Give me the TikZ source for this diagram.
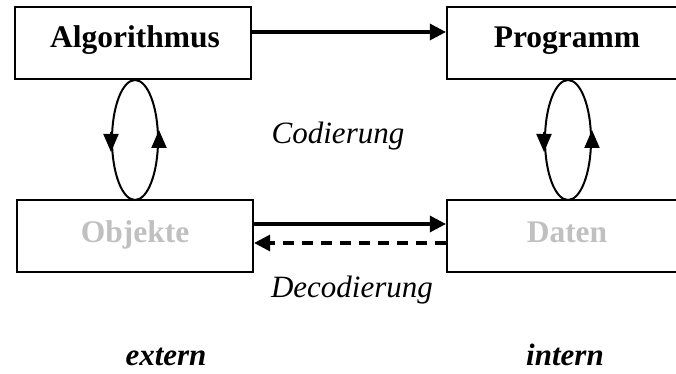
\documentclass[tikz,border=0pt]{standalone}
\usepackage{fontspec}
\setmainfont{Liberation Serif}
\usetikzlibrary{arrows.meta,shapes.geometric}
\definecolor{lightgray}{RGB}{192,192,192}
\tikzset{
  box/.style={draw=black, line width=2.2pt, minimum width=236pt, minimum height=72pt, inner sep=0pt},
  boxtext/.style={font=\fontsize{31.5}{36}\selectfont\bfseries, anchor=base},
  lbl/.style={font=\fontsize{31}{36}\selectfont\itshape, anchor=base},
  side/.style={font=\fontsize{31}{36}\selectfont\bfseries\itshape, anchor=base},
  conn/.style={line width=3.2pt, -{Triangle[length=16pt,width=16pt]}},
  loopring/.style={draw=black, ellipse, line width=2pt, minimum width=46pt, minimum height=120pt, inner sep=0pt},
  looptip/.style={line width=2pt, -{Triangle[length=18pt,width=15pt]}}
}
\begin{document}
\begin{tikzpicture}[x=1pt,y=-1pt]
\useasboundingbox (0,0) rectangle (676,374);
\begin{scope}
\clip (0,0) rectangle (676,374);
% boxes
\node[box] (alg) at (133,43) {};
\node[box] (prog) at (565,43) {};
\node[box] (obj) at (135,236) {};
\node[box] (dat) at (565,236) {};
\end{scope}
% box labels
\node[boxtext] (algT) at (135,48) {Algorithmus};
\node[boxtext] (progT) at (567,48) {Programm};
\node[boxtext, text=lightgray] (objT) at (135,242) {Objekte};
\node[boxtext, text=lightgray] (datT) at (567,242) {Daten};
% loops between upper and lower boxes: down on the left side, up on the right
\node[loopring] (loopA) at (135,140) {};
\node[loopring] (loopP) at (568,140) {};
\draw[looptip] ([yshift=8pt]loopA.west) -- ([yshift=-12pt]loopA.west);
\draw[looptip] ([yshift=-8pt]loopA.east) -- ([yshift=10pt]loopA.east);
\draw[looptip] ([yshift=8pt]loopP.west) -- ([yshift=-12pt]loopP.west);
\draw[looptip] ([yshift=-8pt]loopP.east) -- ([yshift=10pt]loopP.east);
% connectors
\draw[conn] (alg.east |- 0,32) -- (prog.west |- 0,32);
\draw[conn] (obj.east |- 0,224) -- (dat.west |- 0,224);
\draw[conn, dash pattern=on 11pt off 8pt] (dat.west |- 0,243) -- (obj.east |- 0,243);
% labels
\node[lbl] (cod) at (338,143) {Codierung};
\node[lbl] (decod) at (352,297) {Decodierung};
\node[side] (ext) at (166,365) {extern};
\node[side] (int) at (565,365) {intern};
\end{tikzpicture}
\end{document}
